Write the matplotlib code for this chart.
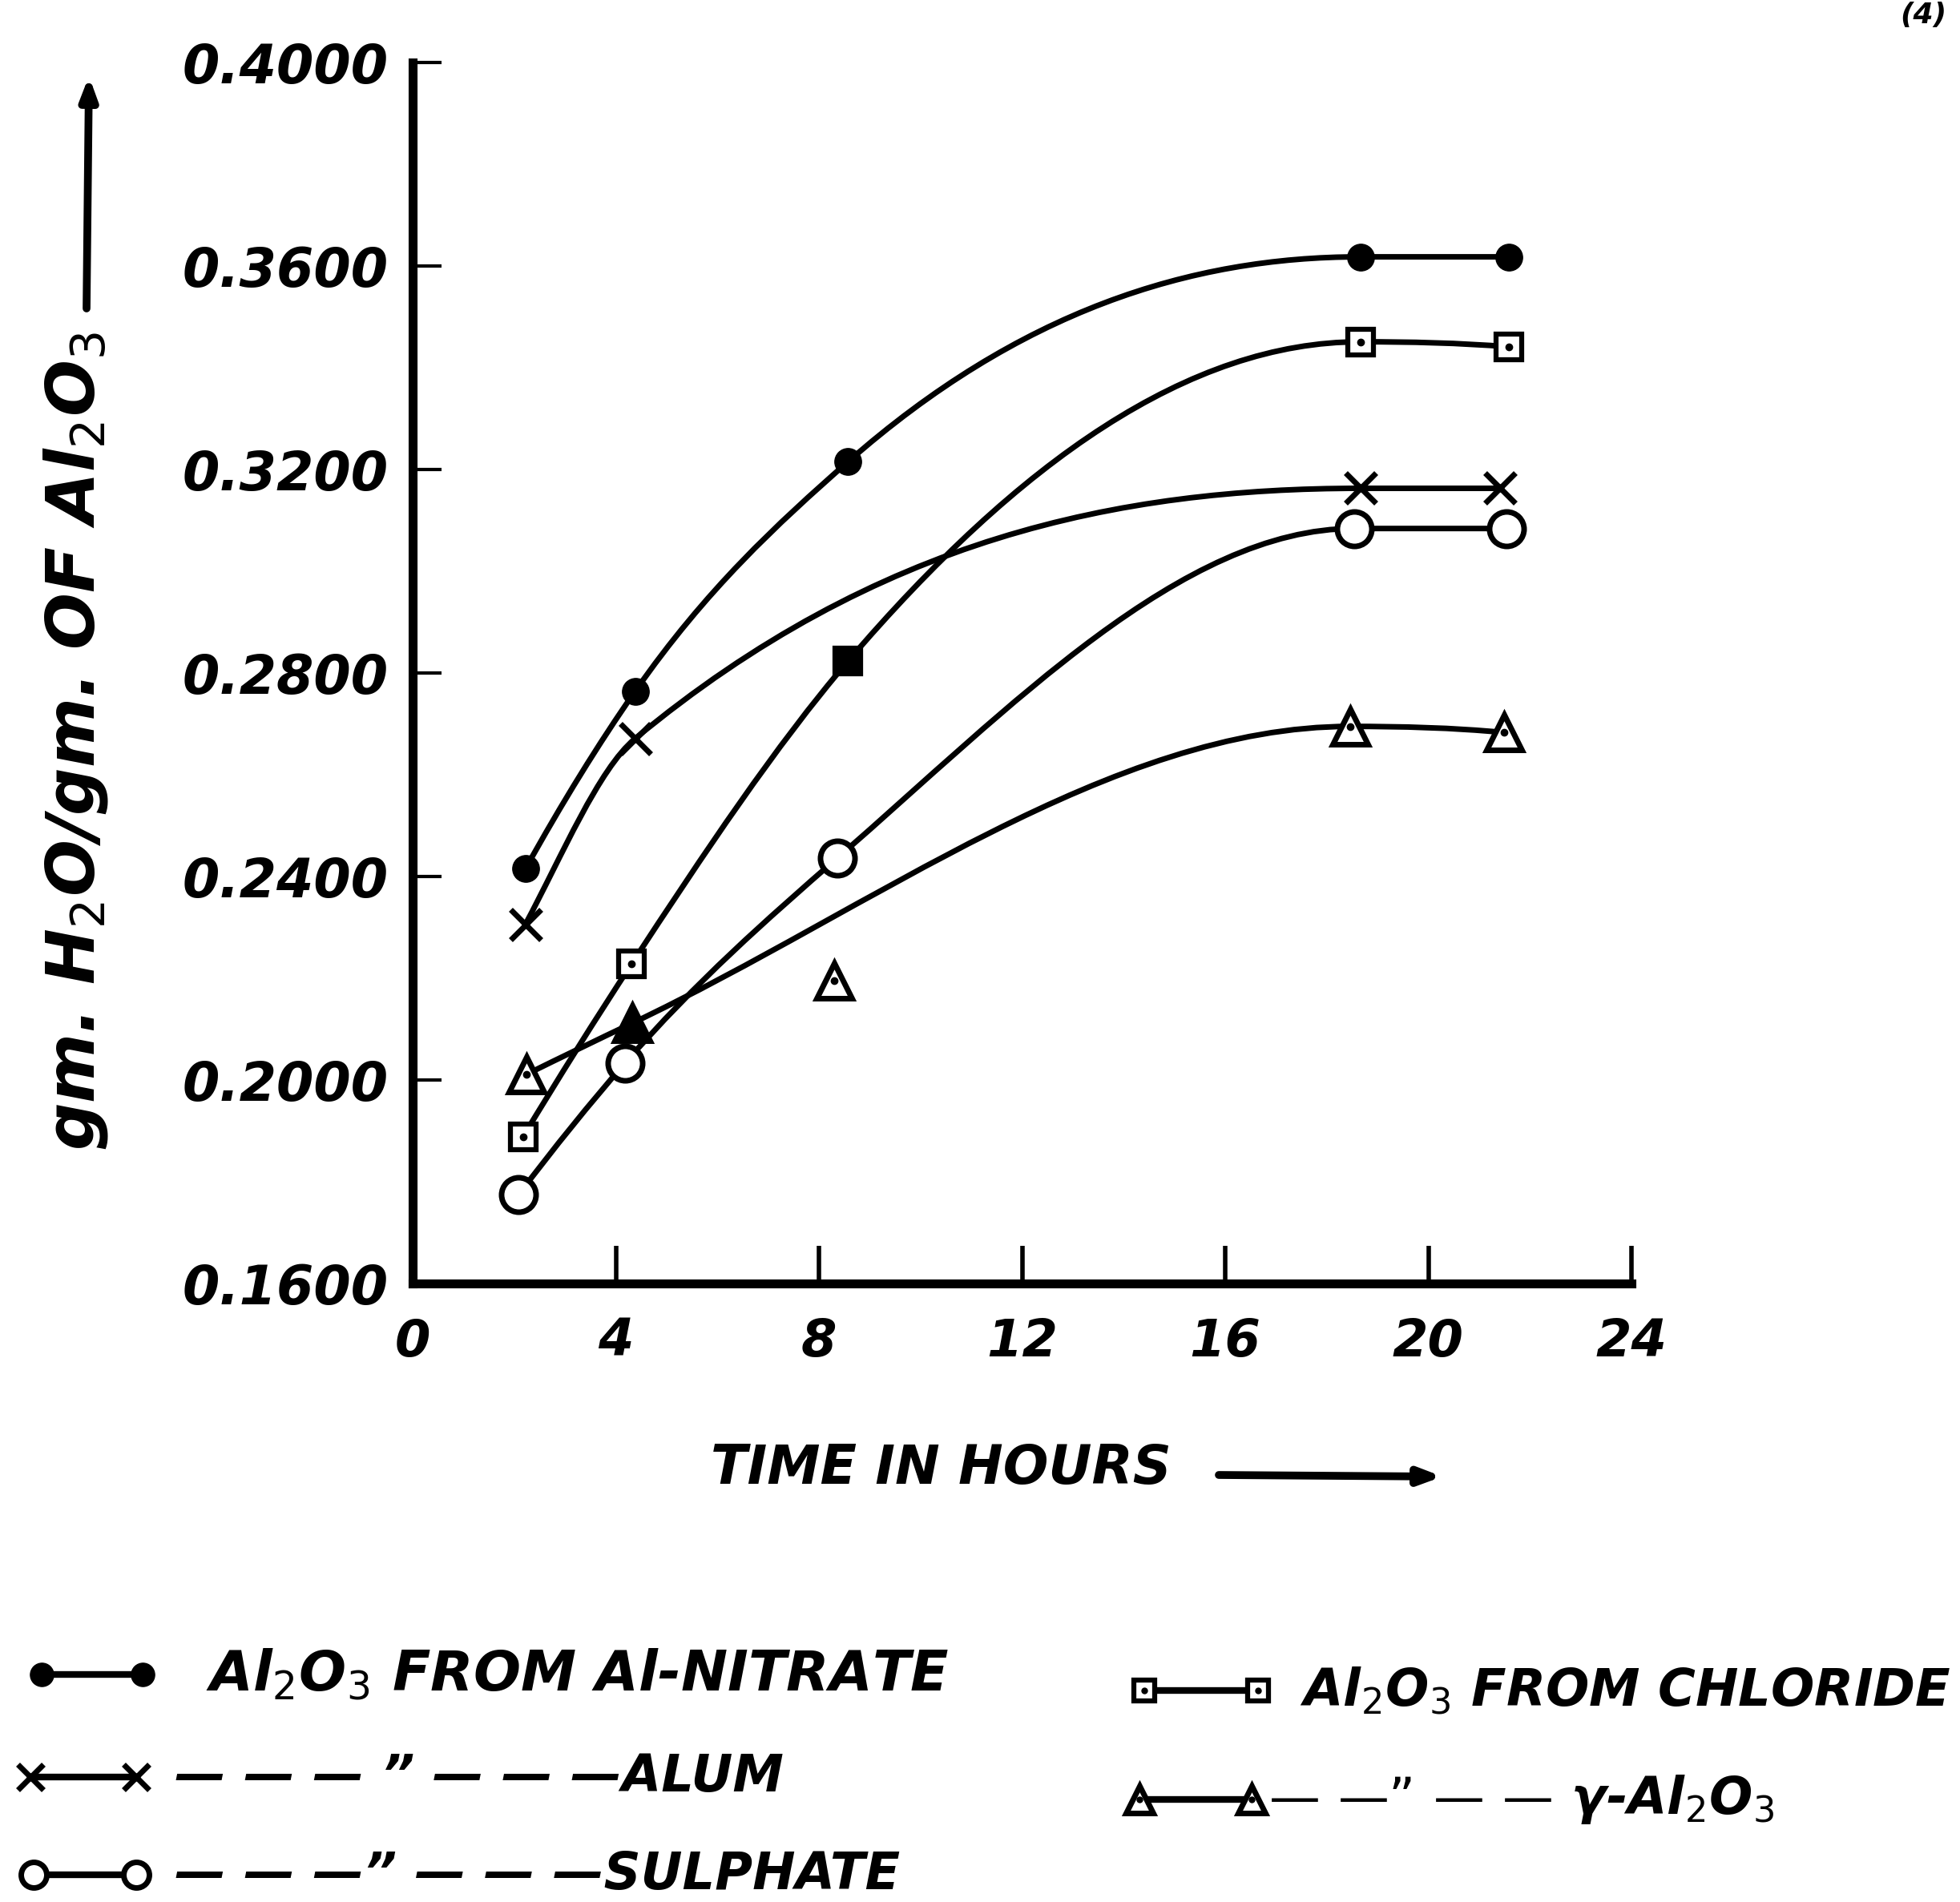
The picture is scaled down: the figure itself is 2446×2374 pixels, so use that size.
import numpy as np
import matplotlib
matplotlib.use("Agg")
import matplotlib.pyplot as plt
from matplotlib.path import Path
from matplotlib.patches import PathPatch

plt.rcParams['font.family'] = ['DejaVu Sans']
plt.rcParams['mathtext.fontset'] = 'dejavusans'

# ---------------- data ----------------
hours_nitrate = [2.22, 4.38, 8.57, 18.66, 21.59]
water_nitrate = [0.2415, 0.2764, 0.3215, 0.3618, 0.3618]

hours_chloride = [2.17, 4.31, 8.57, 18.66, 21.59]
water_chloride = [0.1888, 0.2228, 0.2823, 0.3451, 0.3441]

hours_alum = [2.22, 4.38, 18.66, 21.42]
water_alum = [0.2306, 0.2671, 0.3163, 0.3163]

hours_sulphate = [2.09, 4.18, 8.37, 18.54, 21.54]
water_sulphate = [0.1775, 0.2033, 0.2437, 0.3084, 0.3084]

hours_gamma = [2.24, 4.33, 8.30, 18.46, 21.49]
water_gamma = [0.2011, 0.2112, 0.2196, 0.2695, 0.2683]
gamma_on_curve = [True, True, False, True, True]

x_ticks = [0, 4, 8, 12, 16, 20, 24]
y_ticks = [0.16, 0.20, 0.24, 0.28, 0.32, 0.36, 0.40]
y_tick_labels = ["0.1600", "0.2000", "0.2400", "0.2800", "0.3200", "0.3600", "0.4000"]

FONT = dict(fontstyle='oblique', fontweight='bold', family='DejaVu Sans')


def smooth_path(xs, ys, limit=2.4):
    """Smooth cubic curve through the points (parabolic tangents with
    Fritsch-Carlson style limiting), drawn as Bezier segments."""
    x = np.asarray(xs, float)
    y = np.asarray(ys, float)
    n = len(x)
    h = np.diff(x)
    d = np.diff(y) / h
    m = np.zeros(n)
    for k in range(1, n - 1):
        if d[k - 1] * d[k] > 0:
            m[k] = (h[k] * d[k - 1] + h[k - 1] * d[k]) / (h[k - 1] + h[k])
    if n > 2:
        s = ((2 * h[0] + h[1]) * d[0] - h[0] * d[1]) / (h[0] + h[1])
        m[0] = s if np.sign(s) == np.sign(d[0]) else 0.0
        s = ((2 * h[-1] + h[-2]) * d[-1] - h[-1] * d[-2]) / (h[-1] + h[-2])
        m[-1] = s if np.sign(s) == np.sign(d[-1]) else 0.0
    else:
        m[:] = d[0]
    for k in range(n - 1):
        if d[k] == 0:
            m[k] = m[k + 1] = 0.0
            continue
        a, b = m[k] / d[k], m[k + 1] / d[k]
        r = np.sqrt(a * a + b * b)
        if r > limit:
            t = limit / r
            m[k] = t * a * d[k]
            m[k + 1] = t * b * d[k]
    verts = [(x[0], y[0])]
    codes = [Path.MOVETO]
    for k in range(n - 1):
        verts += [(x[k] + h[k] / 3, y[k] + m[k] * h[k] / 3),
                  (x[k + 1] - h[k] / 3, y[k + 1] - m[k + 1] * h[k] / 3),
                  (x[k + 1], y[k + 1])]
        codes += [Path.CURVE4] * 3
    return Path(verts, codes)


fig = plt.figure(figsize=(24.46, 23.74), dpi=100)
fig.patch.set_facecolor('white')

L, R = 515 / 2446, 2036 / 2446
B, T = 1 - 1602 / 2374, 1 - 78 / 2374
ax = fig.add_axes([L, B, R - L, T - B])
ax.set_xlim(0, 24)
ax.set_ylim(0.16, 0.40)
for s in ['top', 'right']:
    ax.spines[s].set_visible(False)
for s in ['left', 'bottom']:
    ax.spines[s].set_linewidth(8)
    ax.spines[s].set_capstyle('projecting')

ax.set_xticks(x_ticks)
ax.set_xticklabels([str(v) for v in x_ticks], fontsize=46, **FONT)
ax.set_yticks(y_ticks)
ax.set_yticklabels(y_tick_labels, fontsize=48, **FONT)
ax.tick_params(axis='y', direction='in', length=26, width=3, pad=22)
ax.tick_params(axis='x', direction='in', length=34, width=4, pad=30)

LW = 5
series = [
    (hours_nitrate, water_nitrate, None),
    (hours_chloride, water_chloride, None),
    (hours_alum, water_alum, None),
    (hours_sulphate, water_sulphate, None),
    (hours_gamma, water_gamma, gamma_on_curve),
]
for xs, ys, mask in series:
    if mask is not None:
        xs_c = [a for a, k in zip(xs, mask) if k]
        ys_c = [b for b, k in zip(ys, mask) if k]
    else:
        xs_c, ys_c = xs, ys
    ax.add_patch(PathPatch(smooth_path(xs_c, ys_c), facecolor='none',
                           edgecolor='black', lw=LW, transform=ax.transData,
                           zorder=2, clip_on=False, capstyle='round'))

# ink-filled symbols in the original drawing (3rd chloride, 2nd gamma point)
chloride_fill = ['white', 'white', 'black', 'white', 'white']
gamma_fill = ['white', 'black', 'white', 'white', 'white']

ax.plot(hours_nitrate, water_nitrate, ls='none', marker='o', ms=24,
        mfc='black', mec='black', zorder=4, clip_on=False)
for xv, yv, fc in zip(hours_chloride, water_chloride, chloride_fill):
    ax.plot([xv], [yv], ls='none', marker='s', ms=23, mfc=fc, mec='black',
            mew=4.5, zorder=4, clip_on=False)
ax.plot(hours_chloride, water_chloride, ls='none', marker='o', ms=6,
        mfc='black', mec='black', zorder=5, clip_on=False)
ax.plot(hours_alum, water_alum, ls='none', marker='x', ms=28,
        mec='black', mew=5, zorder=4, clip_on=False)
ax.plot(hours_sulphate, water_sulphate, ls='none', marker='o', ms=31,
        mfc='white', mec='black', mew=5, zorder=4, clip_on=False)
for xv, yv, fc in zip(hours_gamma, water_gamma, gamma_fill):
    ax.plot([xv], [yv], ls='none', marker='^', ms=32, mfc=fc, mec='black',
            mew=5, zorder=4, clip_on=False)
ax.plot(hours_gamma, water_gamma, ls='none', marker='o', ms=6,
        mfc='black', mec='black', zorder=5, clip_on=False)

# ---------------- overlay for labels / legend (pixel coordinates) ----------------
ov = fig.add_axes([0, 0, 1, 1], facecolor='none')
ov.set_xlim(0, 2446)
ov.set_ylim(2374, 0)
ov.axis('off')

ARROW = dict(arrowstyle='-|>,head_length=1.6,head_width=0.6',
             lw=7, color='black', shrinkA=0, shrinkB=0)
# axis titles
ov.text(1174, 1833, "TIME IN HOURS", fontsize=48, ha='center', va='center', **FONT)
ov.annotate("", xy=(1800, 1843), xytext=(1521, 1841), arrowprops=ARROW)
ov.text(95, 925, r"gm. H$_2$O/gm. OF Al$_2$O$_3$", fontsize=60, rotation=90,
        ha='center', va='center', **FONT)
ov.annotate("", xy=(111, 95), xytext=(108, 385), arrowprops=ARROW)
ov.text(2400, 2, "(4)", fontsize=26, ha='center', va='top', **FONT)

# legend
LEG_LW = 6
def leg_entry(x0, x1, y, mk, ms, mfc, mew, text, tx, size=46, dot=False):
    ov.plot([x0, x1], [y, y], color='black', lw=LEG_LW, solid_capstyle='butt', zorder=3)
    ov.plot([x0, x1], [y, y], ls='none', marker=mk, ms=ms, mfc=mfc, mec='black',
            mew=mew, zorder=4)
    if dot:
        ov.plot([x0, x1], [y, y], ls='none', marker='o', ms=5, mfc='black',
                mec='black', zorder=5)
    ov.text(tx, y, text, fontsize=size, ha='left', va='center', **FONT)

leg_entry(52, 178, 2090, 'o', 21, 'black', 1, r"Al$_2$O$_3$ FROM Al-NITRATE", 257, size=50)
leg_entry(38, 170, 2218, 'x', 23, 'none', 5, "— — — ” — — —ALUM", 218)
leg_entry(42, 170, 2340, 'o', 23, 'white', 5, "— — —” — — —SULPHATE", 218)
leg_entry(1428, 1570, 2110, 's', 19, 'white', 4.5, r"Al$_2$O$_3$ FROM CHLORIDE", 1622, dot=True)
leg_entry(1422, 1562, 2246, '^', 25, 'white', 5, r"— —” — — γ-Al$_2$O$_3$", 1583, dot=True)

fig.savefig("out.png", dpi=100, facecolor='white')
